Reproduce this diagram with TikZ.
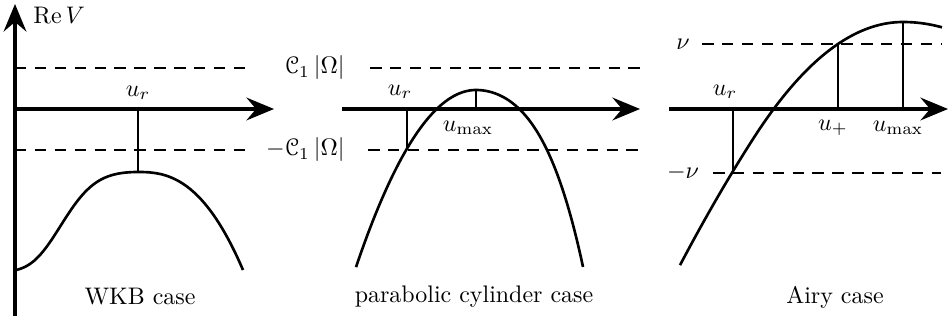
\documentclass[tikz,border=0pt]{standalone}
\usepackage{eucal}
\usetikzlibrary{arrows.meta}
\begin{document}
\begin{tikzpicture}[x=0.4175pt,y=-0.4175pt,
  axis/.style={line width=1.3pt,-{Stealth[length=11.5pt,width=9.5pt,inset=4pt]}},
  curve/.style={line width=1.1pt},
  level/.style={line width=0.6pt,dash pattern=on 4.8pt off 3.5pt},
  thin/.style={line width=0.55pt},
  lab/.style={inner sep=0pt,font=\normalsize}]
\useasboundingbox (0,0) rectangle (949,320);
% ---------- panel 1 ----------
\coordinate (yb) at (15,316);
\coordinate (yt) at (15,4);
\coordinate (a1s) at (15,109);
\coordinate (a1e) at (274,109);
\draw[axis] (yb) -- (yt);
\draw[axis] (a1s) -- (a1e);
\node[lab,anchor=west] (rev) at (33,15) {$\mathrm{Re}\,V$};
\coordinate (d1us) at (15,68);  \coordinate (d1ue) at (248,68);
\coordinate (d1ls) at (15,150); \coordinate (d1le) at (248,150);
\draw[level] (d1us) -- (d1ue);
\draw[level] (d1ls) -- (d1le);
\node[lab,anchor=east] (c1u) at (345,68) {$\mathcal{C}_1\,|\Omega|$};
\node[lab,anchor=east] (c1l) at (345,150) {$-\mathcal{C}_1\,|\Omega|$};
\coordinate (p1a) at (138,109);
\coordinate (p1m) at (138,172);
\draw[thin] (p1a) -- (p1m);
\node[lab] (ur1) at (138,93) {$u_r$};
\draw[curve] plot[domain=16:138,samples=70] (\x,{270-98*(exp(-(0.545*((138-\x)/122)^2+3.42*((138-\x)/122)^4))-0.019)/0.981})
  -- plot[domain=138:243,samples=70] (\x,{270-98*(1-((\x-138)/105+0.00001)^2.5)});
\node[lab] (cap1) at (140,297) {WKB case};
% ---------- panel 2 ----------
\coordinate (a2s) at (342,109);
\coordinate (a2e) at (640,109);
\draw[axis] (a2s) -- (a2e);
\coordinate (d2us) at (370,68);  \coordinate (d2ue) at (641,68);
\coordinate (d2ls) at (368,150); \coordinate (d2le) at (641,150);
\draw[level] (d2us) -- (d2ue);
\draw[level] (d2ls) -- (d2le);
\coordinate (p2ra) at (407,109);
\coordinate (p2r) at (407,148.6);
\draw[thin] (p2ra) -- (p2r);
\coordinate (p2ma) at (476,109);
\coordinate (p2m) at (476,90);
\draw[thin] (p2ma) -- (p2m);
\node[lab] (ur2) at (400,92) {$u_r$};
\node[lab] (um2) at (468,128) {$u_{\max}$};
\draw[curve] plot[domain=356:476,samples=70] (\x,{90+123*((476-\x)/100)^2})
  -- plot[domain=476:583,samples=70] (\x,{90+91*((\x-476)/100)^2+55.5*((\x-476)/100)^4});
\node[lab] (cap2) at (474,297) {parabolic cylinder case};
% ---------- panel 3 ----------
\coordinate (a3s) at (669,109);
\coordinate (a3e) at (948,109);
\draw[axis] (a3s) -- (a3e);
\coordinate (d3us) at (702,44);  \coordinate (d3ue) at (941,44);
\coordinate (d3ls) at (713,173); \coordinate (d3le) at (941,173);
\draw[level] (d3us) -- (d3ue);
\draw[level] (d3ls) -- (d3le);
\node[lab] (nu) at (683,44) {$\nu$};
\node[lab] (mnu) at (683,173) {$-\nu$};
\coordinate (p3ra) at (733,109);
\coordinate (p3r) at (733,173);
\draw[thin] (p3ra) -- (p3r);
\coordinate (p3pa) at (838,109);
\coordinate (p3p) at (838,44);
\draw[thin] (p3pa) -- (p3p);
\coordinate (p3ma) at (903,109);
\coordinate (p3m) at (903,22);
\draw[thin] (p3ma) -- (p3m);
\node[lab] (ur3) at (725,92) {$u_r$};
\node[lab] (up3) at (833,128) {$u_+$};
\node[lab] (um3) at (898,128) {$u_{\max}$};
\draw[curve] plot[domain=680:903,samples=90] (\x,{22+52*((903-\x)/100)^2-29*(max(903-\x-150,0)/100)^2})
  -- plot[domain=903:942,samples=20] (\x,{22+35*((\x-903)/100)^2});
\node[lab] (cap3) at (835,297) {Airy case};
\end{tikzpicture}
\end{document}
